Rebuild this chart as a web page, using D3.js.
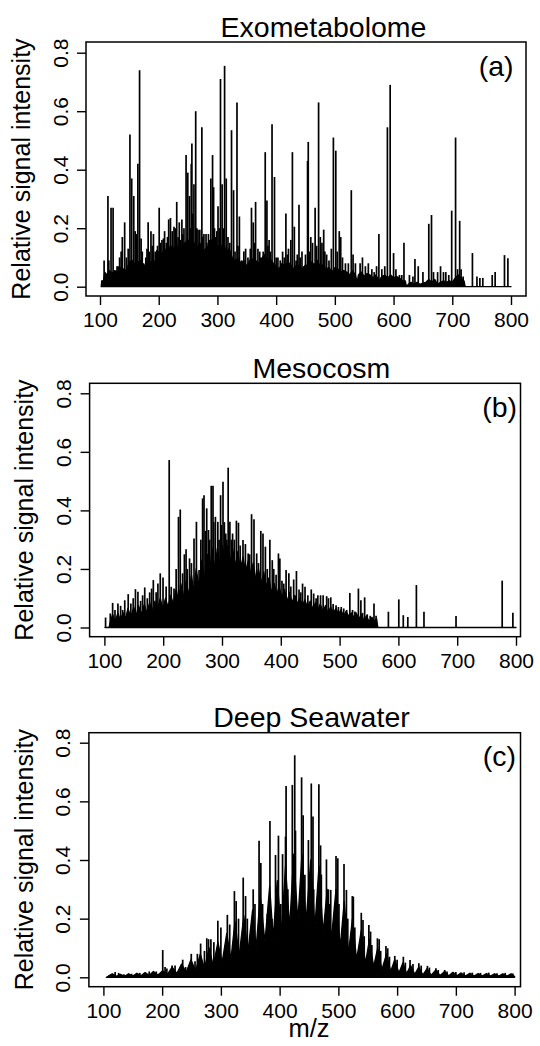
<!DOCTYPE html>
<html>
<head>
<meta charset="utf-8">
<script src="https://cdn.jsdelivr.net/npm/d3@7"></script>
<style>
  html, body { margin: 0; padding: 0; background: #fff; }
  svg text { font-family: "Liberation Sans", Arial, Helvetica, sans-serif; fill: #000; }
</style>
</head>
<body>
<svg id="chart" width="540" height="1046"></svg>
<script>
// ---------------- DATA ----------------
const panelTitles = ["Exometabolome", "Mesocosm", "Deep Seawater"];
const panelTags = ["(a)", "(b)", "(c)"];
const xTicks = [100, 200, 300, 400, 500, 600, 700, 800];
const yTicks = [0.0, 0.2, 0.4, 0.6, 0.8];
const xLabel = "m/z";
const yLabel = "Relative signal intensity";

// Dense background envelope [m/z, intensity] — Exometabolome
const exoEnvelope = [[102,0],[103,0.02],[106,0.02],[108,0.05],[112,0.04],[116,0.055],[120,0.045],[125,0.055],[130,0.05],[135,0.065],[140,0.06],[145,0.055],[150,0.085],[155,0.09],[160,0.075],[165,0.085],[170,0.09],[175,0.07],[180,0.085],[185,0.08],[190,0.09],[195,0.085],[200,0.12],[205,0.11],[210,0.13],[215,0.12],[220,0.14],[225,0.13],[230,0.145],[235,0.12],[240,0.14],[245,0.15],[250,0.16],[255,0.14],[260,0.15],[265,0.13],[270,0.15],[275,0.12],[280,0.13],[285,0.14],[290,0.16],[295,0.12],[300,0.14],[305,0.13],[310,0.15],[315,0.12],[320,0.13],[325,0.1],[330,0.09],[335,0.095],[340,0.08],[345,0.09],[350,0.07],[355,0.09],[360,0.095],[365,0.09],[370,0.08],[375,0.095],[380,0.11],[385,0.09],[390,0.095],[395,0.08],[400,0.07],[405,0.06],[410,0.08],[415,0.07],[420,0.085],[425,0.075],[430,0.06],[435,0.075],[440,0.07],[445,0.06],[450,0.075],[455,0.07],[460,0.085],[465,0.075],[470,0.09],[475,0.07],[480,0.075],[485,0.06],[490,0.065],[495,0.05],[500,0.065],[505,0.06],[510,0.05],[515,0.055],[520,0.05],[525,0.04],[530,0.055],[535,0.04],[538,0.015],[540,0.04],[545,0.05],[550,0.035],[555,0.045],[560,0.04],[565,0.03],[570,0.04],[575,0.02],[580,0.035],[585,0.04],[590,0.03],[595,0.04],[600,0.03],[605,0.035],[610,0.03],[615,0.02],[620,0.02],[622,0],[625,0.008],[630,0.015],[635,0.008],[640,0.015],[645,0.008],[650,0.012],[655,0.015],[660,0.025],[665,0.015],[670,0.025],[675,0.008],[680,0.015],[685,0.02],[690,0.015],[695,0.02],[700,0.015],[705,0.03],[710,0.04],[715,0.03],[720,0.02],[722,0],[800,0]];

// Prominent sticks [m/z, intensity] — Exometabolome
const exoPeaks = [[103.5,0.02],[107,0.09],[113.5,0.31],[115,0.09],[118.8,0.27],[122.3,0.27],[125,0.05],[129,0.07],[131,0.07],[133.4,0.1],[136,0.12],[138,0.17],[142,0.22],[145,0.1],[148,0.13],[151,0.52],[154,0.37],[157.5,0.31],[160,0.19],[162,0.18],[164.5,0.42],[167.4,0.74],[170,0.165],[172,0.12],[174,0.08],[178,0.1],[180,0.13],[182,0.22],[184,0.12],[186.8,0.19],[189,0.14],[191,0.18],[194,0.12],[196.7,0.125],[198,0.14],[200.8,0.27],[203,0.15],[205.5,0.16],[208,0.165],[210,0.19],[213,0.15],[215,0.17],[217,0.23],[220,0.235],[223,0.19],[226,0.205],[228,0.2],[230.7,0.29],[233,0.17],[235,0.22],[237,0.16],[239.5,0.23],[241,0.18],[243,0.2],[246.6,0.45],[249.5,0.39],[252.4,0.31],[253.5,0.2],[255.4,0.42],[256.5,0.49],[258,0.25],[260,0.35],[263,0.6],[265,0.2],[267,0.195],[270,0.195],[273.5,0.545],[275,0.17],[277,0.18],[280.6,0.18],[282,0.15],[284.7,0.18],[286,0.16],[288.8,0.37],[291.7,0.45],[293.5,0.34],[295,0.2],[297,0.17],[299,0.19],[301,0.275],[303,0.2],[305.2,0.71],[308,0.35],[310,0.2],[312.2,0.755],[315,0.37],[318,0.17],[321,0.15],[324,0.535],[327.5,0.33],[330,0.12],[333.3,0.63],[335,0.14],[337.4,0.24],[341,0.09],[345,0.12],[348,0.13],[352,0.1],[356,0.13],[358,0.27],[361,0.22],[363,0.15],[365,0.29],[369,0.13],[372,0.12],[374,0.1],[378,0.12],[381.4,0.46],[384.3,0.295],[386,0.14],[388,0.16],[390,0.12],[393,0.555],[397.2,0.375],[400,0.1],[403,0.1],[407,0.09],[411,0.12],[414,0.1],[416.6,0.25],[419,0.11],[421,0.13],[425,0.16],[427.7,0.46],[431,0.205],[434,0.09],[436,0.11],[438.9,0.28],[441,0.1],[444,0.12],[447,0.07],[450,0.11],[453.5,0.43],[454.7,0.495],[457,0.12],[459,0.17],[462,0.15],[466.4,0.27],[469,0.14],[472.3,0.63],[475.2,0.17],[478,0.15],[481,0.195],[483,0.12],[486,0.11],[490,0.09],[494,0.13],[497.5,0.51],[501.6,0.465],[504,0.12],[507.5,0.19],[510,0.17],[513,0.1],[518,0.08],[523,0.08],[528,0.33],[531,0.11],[535,0.08],[543,0.08],[547,0.1],[552,0.07],[557,0.08],[563,0.06],[567,0.05],[571,0.07],[575,0.18],[580,0.06],[585,0.07],[589.5,0.545],[594.2,0.69],[600,0.115],[604,0.06],[610,0.04],[614,0.04],[617.7,0.15],[627,0.04],[633,0.035],[636.4,0.095],[642,0.07],[650,0.05],[660,0.215],[664.6,0.245],[668,0.05],[675,0.05],[680,0.07],[685,0.05],[689,0.05],[694,0.04],[699,0.26],[705.6,0.51],[709,0.06],[712.6,0.225],[715,0.06],[718.5,0.035],[734.3,0.115],[742,0.035],[747,0.03],[752,0.03],[768,0.04],[773,0.05],[788.9,0.108],[794.7,0.097]];

// Dense background envelope — Mesocosm
const mesoEnvelope = [[101,0],[108,0],[110,0.02],[114,0.045],[118,0.02],[123,0.05],[127,0.025],[132,0.05],[136,0.03],[140,0.065],[145,0.035],[150,0.07],[154,0.04],[158,0.075],[163,0.045],[168,0.08],[172,0.05],[177,0.085],[181,0.055],[186,0.09],[190,0.06],[195,0.1],[199,0.065],[204,0.1],[208,0.07],[213,0.11],[217,0.08],[222,0.13],[226,0.09],[230,0.15],[234,0.1],[239,0.16],[243,0.11],[248,0.18],[252,0.12],[256,0.2],[261,0.14],[266,0.23],[270,0.16],[275,0.25],[279,0.18],[283,0.27],[288,0.2],[292,0.27],[297,0.21],[301,0.28],[305,0.22],[310,0.28],[314,0.22],[318,0.27],[323,0.21],[327,0.26],[331,0.2],[336,0.24],[340,0.19],[345,0.23],[349,0.18],[353,0.22],[358,0.16],[362,0.2],[367,0.15],[371,0.19],[375,0.14],[380,0.17],[384,0.12],[389,0.15],[393,0.11],[397,0.14],[402,0.1],[406,0.13],[411,0.09],[415,0.12],[419,0.085],[424,0.11],[428,0.08],[432,0.1],[437,0.075],[441,0.095],[445,0.07],[450,0.09],[454,0.065],[459,0.085],[463,0.06],[467,0.08],[472,0.055],[476,0.075],[480,0.05],[485,0.07],[489,0.05],[494,0.065],[498,0.045],[502,0.06],[507,0.04],[511,0.055],[515,0.04],[520,0.05],[524,0.035],[528,0.05],[533,0.03],[537,0.045],[541,0.025],[546,0.04],[550,0.02],[555,0.035],[559,0.02],[563,0.03],[565,0],[800,0]];

// Prominent sticks — Mesocosm
const mesoPeaks = [[102,0.034],[110,0.048],[114,0.084],[118,0.06],[123,0.082],[127.6,0.074],[131,0.06],[134.6,0.093],[140.5,0.114],[145,0.082],[149,0.1],[152.8,0.131],[157,0.122],[161.6,0.091],[165,0.11],[168.6,0.137],[173,0.1],[177,0.12],[180.3,0.133],[183.2,0.162],[188,0.12],[191,0.15],[195,0.185],[199.7,0.171],[205,0.14],[210.2,0.572],[213.7,0.139],[218.4,0.133],[222,0.2],[226,0.378],[229,0.403],[233,0.185],[236,0.25],[238.9,0.267],[241,0.2],[244.8,0.236],[248,0.22],[252.4,0.304],[256.5,0.361],[261,0.196],[264,0.3],[267,0.441],[269.4,0.452],[272,0.33],[274,0.407],[277,0.333],[279,0.3],[281.7,0.484],[284.7,0.484],[286,0.36],[288.8,0.378],[292.9,0.361],[295,0.3],[297.6,0.452],[299,0.35],[301.7,0.498],[304,0.36],[306.4,0.321],[308,0.3],[310.5,0.546],[313.4,0.361],[316,0.3],[318,0.321],[321,0.3],[324.5,0.365],[328,0.358],[331,0.28],[335.7,0.299],[339.8,0.285],[344.5,0.253],[347,0.25],[350.3,0.387],[354.4,0.37],[359,0.253],[362,0.22],[366,0.33],[369.7,0.321],[373.8,0.276],[377,0.2],[381.4,0.3],[385.5,0.23],[388,0.2],[392,0.18],[396,0.253],[398.4,0.236],[402,0.16],[405,0.15],[409,0.196],[413.7,0.185],[417,0.14],[421.9,0.164],[426.6,0.193],[431,0.13],[434,0.12],[437,0.15],[441.2,0.139],[446,0.11],[451.8,0.13],[455.9,0.116],[460,0.1],[463,0.11],[467.6,0.11],[472,0.11],[478,0.107],[481,0.1],[485,0.103],[489,0.08],[494,0.076],[498,0.07],[502.8,0.07],[507,0.065],[512,0.06],[517.4,0.118],[522,0.06],[526,0.055],[532,0.133],[536.2,0.093],[539,0.05],[542.6,0.103],[547,0.045],[552,0.04],[558.5,0.082],[562,0.04],[583,0.054],[600.7,0.096],[608.3,0.042],[616,0.036],[630.6,0.145],[643.5,0.054],[698,0.039],[776.5,0.16],[794.7,0.05]];

// Dense background envelope — Deep Seawater
const deepEnvelope = [[105,0],[108,0.003],[115,0.012],[122,0.003],[129,0.01],[136,0.003],[143,0.012],[150,0.004],[157,0.014],[164,0.005],[171,0.016],[178,0.006],[185,0.02],[193,0.008],[201,0.022],[209,0.01],[217,0.035],[225,0.013],[233,0.045],[241,0.017],[249,0.06],[257,0.022],[265,0.08],[272,0.03],[280,0.1],[287,0.04],[295,0.12],[302,0.05],[310,0.15],[317,0.06],[324,0.19],[331,0.072],[339,0.21],[346,0.085],[354,0.23],[360,0.1],[367,0.28],[375,0.12],[383,0.31],[389,0.135],[396,0.33],[403,0.15],[410,0.38],[417,0.17],[424,0.42],[431,0.19],[438,0.42],[445,0.19],[453,0.4],[460,0.17],[467,0.38],[474,0.15],[481,0.3],[488,0.13],[496,0.3],[503,0.1],[510,0.26],[517,0.08],[524,0.2],[531,0.06],[539,0.16],[546,0.047],[553,0.13],[560,0.036],[567,0.1],[574,0.026],[582,0.08],[589,0.02],[596,0.06],[603,0.015],[610,0.05],[616,0.012],[623,0.04],[630,0.01],[637,0.035],[644,0.008],[651,0.03],[658,0.007],[666,0.025],[673,0.006],[681,0.02],[688,0.005],[695,0.017],[702,0.005],[709,0.015],[716,0.004],[724,0.014],[731,0.004],[738,0.013],[745,0.004],[752,0.013],[759,0.004],[766,0.012],[773,0.004],[780,0.012],[787,0.004],[794,0.012],[800,0.003]];

// Prominent sticks — Deep Seawater
const deepPeaks = [[110,0.008],[120,0.018],[126,0.015],[135,0.01],[148,0.012],[162,0.015],[178,0.02],[190,0.02],[201,0.093],[205,0.035],[208,0.03],[217,0.04],[222,0.04],[235,0.06],[240,0.035],[249.6,0.08],[256,0.055],[260,0.08],[265.5,0.115],[272,0.09],[276,0.133],[279,0.13],[283,0.13],[288,0.12],[294.8,0.193],[300,0.17],[311,0.213],[315,0.18],[323,0.294],[326,0.26],[330,0.2],[338,0.34],[342,0.277],[345,0.2],[355,0.3],[358,0.25],[365,0.466],[368,0.39],[371,0.25],[379,0.216],[383.5,0.533],[387,0.2],[393,0.417],[398,0.483],[402,0.25],[405,0.42],[410,0.48],[411,0.652],[414,0.3],[421.6,0.656],[425.7,0.757],[427,0.5],[437.4,0.682],[440,0.553],[443,0.35],[449,0.468],[453.9,0.661],[456.8,0.548],[458,0.3],[466.8,0.658],[469.7,0.45],[471,0.35],[479.7,0.402],[483,0.3],[485,0.25],[487,0.298],[496,0.414],[499,0.406],[501,0.25],[509.6,0.386],[513.7,0.298],[516,0.2],[523.7,0.277],[525.5,0.275],[528,0.17],[539,0.22],[541.9,0.195],[544,0.14],[551.9,0.178],[554.8,0.156],[557,0.11],[566.5,0.133],[569.5,0.13],[572,0.09],[581,0.107],[584,0.099],[587,0.07],[596,0.073],[600,0.06],[610.6,0.07],[614,0.05],[622,0.059],[627,0.045],[637,0.048],[641,0.04],[651.6,0.039],[655,0.033],[666,0.031],[670,0.025],[681,0.025],[685,0.02],[700,0.018],[714,0.017],[728,0.016],[742,0.015],[756,0.016],[770,0.014],[784,0.015],[797,0.013]];

// ---------------- LAYOUT ----------------
const layouts = [
  { env: exoEnvelope,  pk: exoPeaks,  box: [86, 42, 526, 296],    x100: 100,   x800: 511,   y0: 286.7, y8: 52.7,  titleX: 323.5, ylabX: 29.5, tagX: 513.5 },
  { env: mesoEnvelope, pk: mesoPeaks, box: [89.6, 383.3, 520.5, 636.7], x100: 104.4, x800: 516, y0: 627.5, y8: 393.3, titleX: 321.4, ylabX: 33.4, tagX: 517 },
  { env: deepEnvelope, pk: deepPeaks, box: [88.9, 732.7, 520.5, 986.7], x100: 103.4, x800: 514.6, y0: 977.3, y8: 742.7, titleX: 311.5, ylabX: 32.7, tagX: 516 }
];

const svg = d3.select("#chart");
svg.append("rect").attr("width", 540).attr("height", 1046).attr("fill", "#fff");

layouts.forEach((L, i) => {
  const [bx0, by0, bx1, by1] = L.box;
  const x = d3.scaleLinear().domain([100, 800]).range([L.x100, L.x800]);
  const y = d3.scaleLinear().domain([0, 0.8]).range([L.y0, L.y8]);
  const g = svg.append("g");

  // dense background
  const area = d3.area().x(d => x(d[0])).y0(y(0)).y1(d => y(d[1]));
  g.append("path").datum(L.env).attr("d", area)
    .attr("fill", "#000").attr("stroke", "#000").attr("stroke-width", 1.3).attr("stroke-linejoin", "round");

  // sticks
  g.selectAll("line.pk").data(L.pk).join("line").attr("class", "pk")
    .attr("x1", d => x(d[0])).attr("x2", d => x(d[0]))
    .attr("y1", y(0)).attr("y2", d => y(d[1]))
    .attr("stroke", "#000").attr("stroke-width", 1.7);

  // frame
  g.append("rect").attr("x", bx0).attr("y", by0).attr("width", bx1 - bx0).attr("height", by1 - by0)
    .attr("fill", "none").attr("stroke", "#000").attr("stroke-width", 1.5);

  // x axis
  const xa = g.append("g").attr("transform", `translate(0,${by1})`)
    .call(d3.axisBottom(x).tickValues(xTicks).tickSize(9).tickFormat(d3.format("d")));
  xa.select(".domain").remove();
  xa.selectAll(".tick line").attr("stroke", "#000").attr("stroke-width", 1.4);
  xa.selectAll(".tick text").attr("y", 31).attr("dy", 0).attr("font-size", 21)
    .attr("font-family", "Liberation Sans, Arial, sans-serif").attr("fill", "#000");

  // y axis
  const ya = g.append("g").attr("transform", `translate(${bx0},0)`)
    .call(d3.axisLeft(y).tickValues(yTicks).tickSize(9).tickFormat(d3.format(".1f")));
  ya.select(".domain").remove();
  ya.selectAll(".tick line").attr("stroke", "#000").attr("stroke-width", 1.4);
  ya.selectAll(".tick text").attr("x", 0).attr("y", 0).attr("dy", 0)
    .attr("text-anchor", "middle").attr("transform", "translate(-18.5,0) rotate(-90)")
    .attr("font-size", 21).attr("font-family", "Liberation Sans, Arial, sans-serif").attr("fill", "#000");

  // title
  g.append("text").attr("x", L.titleX).attr("y", by0 - 5.3).attr("text-anchor", "middle")
    .attr("font-size", 28.5).text(panelTitles[i]);

  // panel tag
  g.append("text").attr("x", L.tagX).attr("y", by0 + 33.5).attr("text-anchor", "end")
    .attr("font-size", 28.5).text(panelTags[i]);

  // y label
  const cy = (by0 + by1) / 2;
  g.append("text").attr("transform", `translate(${L.ylabX},${cy}) rotate(-90)`)
    .attr("text-anchor", "middle").attr("font-size", 25).text(yLabel);
});

// x label (bottom panel only)
svg.append("text").attr("x", 309).attr("y", 1037).attr("text-anchor", "middle")
  .attr("font-size", 25.5).text(xLabel);
</script>
</body>
</html>
